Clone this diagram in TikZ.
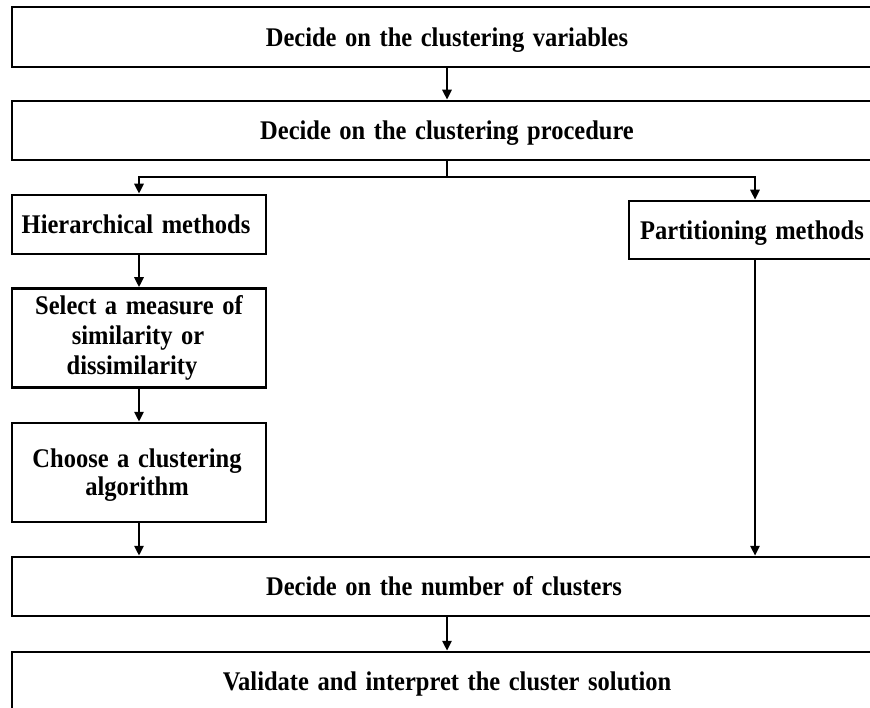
\documentclass[tikz,border=0pt]{standalone}
\usepackage{fontspec}
\usepackage{graphicx}
\setmainfont[WordSpace=1.4]{Liberation Serif}
\usetikzlibrary{arrows.meta}
\newcommand\vst[1]{\scalebox{1}[1.1]{#1}}
\begin{document}
\begin{tikzpicture}[x=1pt,y=-1pt,
  txt/.style={font=\bfseries\fontsize{24.5}{30.5}\selectfont,anchor=base,inner sep=0pt},
  box/.style={draw=black,line width=2.5pt,fill=white,inner sep=0pt},
  conn/.style={line width=2.5pt,-{Triangle[length=10pt,width=9pt]}},
  plain/.style={line width=2.5pt}]
\useasboundingbox (0,0) rectangle (870,708);
\clip (0,0) rectangle (870,708);
% boxes
\node[box,minimum width=872pt,minimum height=60pt] (b1) at (448,37) {};
\node[box,minimum width=872pt,minimum height=59pt] (b2) at (448,130.5) {};
\node[box,minimum width=254pt,minimum height=59pt] (hier) at (139,224.5) {};
\node[box,minimum width=258pt,minimum height=58pt] (part) at (758,230) {};
\node[box,minimum width=254pt,minimum height=99pt] (sel) at (139,338) {};
\node[box,minimum width=254pt,minimum height=99pt] (cho) at (139,472.5) {};
\node[box,minimum width=872pt,minimum height=59pt] (num) at (448,586.5) {};
\node[box,minimum width=872pt,minimum height=60pt] (val) at (448,682) {};
% texts
\node[txt] (t1) at (447,46.7) {\vst{Decide on the clustering variables}};
\node[txt] (t2) at (447,140) {\vst{Decide on the clustering procedure}};
\node[txt] (th) at (136,234) {\vst{Hierarchical methods}};
\node[txt] (tp) at (752,239.3) {\vst{Partitioning methods}};
\node[txt] (ts1) at (139,315) {\vst{Select a measure of}};
\node[txt] (ts2) at (138,345) {\vst{similarity or}};
\node[txt] (ts3) at (132,374.3) {\vst{dissimilarity}};
\node[txt] (tc1) at (137,467.3) {\vst{Choose a clustering}};
\node[txt] (tc2) at (137,495) {\vst{algorithm}};
\node[txt] (tn) at (444,595) {\vst{Decide on the number of clusters}};
\node[txt] (tv) at (447,690.7) {\vst{Validate and interpret the cluster solution}};
% connectors
\coordinate (br) at (447,177);
\coordinate (brl) at (139,177);
\coordinate (brr) at (755,177);
\draw[conn] (b1.south -| br) -- (b2.north -| br);
\draw[plain] (b2.south -| br) -- (br);
\draw[conn] (br) -- (brl) -- (hier.north -| brl);
\draw[conn] (br) -- (brr) -- (part.north -| brr);
\draw[conn] (hier) -- (sel);
\draw[conn] (sel) -- (cho);
\draw[conn] (cho.south) -- (num.north -| cho.south);
\draw[conn] (part.south -| brr) -- (num.north -| brr);
\draw[conn] (num.south -| br) -- (val.north -| br);
\end{tikzpicture}
\end{document}
